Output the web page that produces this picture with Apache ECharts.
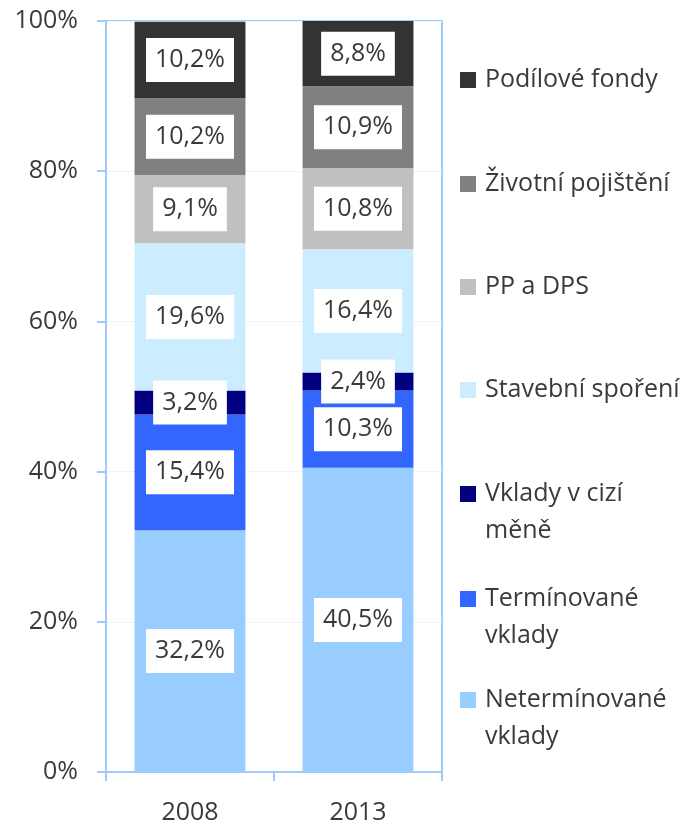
<!DOCTYPE html>
<html>
<head>
<meta charset="utf-8">
<script src="https://cdn.jsdelivr.net/npm/echarts@6/dist/echarts.min.js"></script>
<style>
html,body{margin:0;padding:0;background:#fff;}
#chart{width:687px;height:825px;}
</style>
</head>
<body>
<div id="chart"></div>
<script>
// Categories (x axis)
var categories = ['2008', '2013'];
// Series names, bottom to top of the stack
var seriesNames = ['Netermínované vklady', 'Termínované vklady', 'Vklady v cizí měně', 'Stavební spoření', 'PP a DPS', 'Životní pojištění', 'Podílové fondy'];
// Legend labels (with line breaks as in the picture)
var legendLabels = ['Netermínované\nvklady', 'Termínované\nvklady', 'Vklady v cizí\nměně', 'Stavební spoření', 'PP a DPS', 'Životní pojištění', 'Podílové fondy'];
// Values in % per series (2008, 2013)
var netermVklady = [32.2, 40.5];
var termVklady = [15.4, 10.3];
var vkladyCizi = [3.2, 2.4];
var stavebniSporeni = [19.6, 16.4];
var ppDps = [9.1, 10.8];
var zivotniPojisteni = [10.2, 10.9];
var podiloveFondy = [10.2, 8.8];
var seriesValues = [netermVklady, termVklady, vkladyCizi, stavebniSporeni, ppDps, zivotniPojisteni, podiloveFondy];
var colors = ['#99CCFF', '#3366FF', '#000080', '#CCECFF', '#C0C0C0', '#808080', '#333333'];
// Y axis ticks
var yMin = 0, yMax = 100, yInterval = 20;

var FONT = '"Open Sans", sans-serif';
var TXT = '#3a3a3a';
var LINE = '#9DCBFA';

var series = seriesNames.map(function (name, i) {
  return {
    name: name,
    type: 'bar',
    stack: 'total',
    barWidth: '66%',
    data: seriesValues[i],
    itemStyle: { color: colors[i] },
    label: {
      show: true,
      position: 'inside',
      formatter: function (p) { return p.value.toFixed(1).replace('.', ',') + '%'; },
      backgroundColor: '#ffffff',
      color: TXT,
      fontFamily: FONT,
      fontSize: 25,
      lineHeight: 28,
      padding: [8, 9, 8, 9]
    }
  };
});

// Legends: one per item, top to bottom
var markerCenters = [80, 184, 287, 390, 494, 599, 700];
var legends = [];
for (var k = 0; k < seriesNames.length; k++) {
  var idx = seriesNames.length - 1 - k;
  var label = legendLabels[idx];
  var twoLine = label.indexOf('\n') >= 0;
  // for two-line labels, a blank first line keeps the marker level with the first text line
  var shown = twoLine ? ' \n' + label : label;
  legends.push({
    show: true,
    left: 460,
    top: markerCenters[k] - (twoLine ? 55.5 : 18.5),
    padding: 0,
    itemWidth: 16,
    itemHeight: 16,
    icon: 'rect',
    selectedMode: false,
    data: [seriesNames[idx]],
    formatter: (function (l) { return function () { return l; }; })(shown),
    textStyle: {
      color: TXT,
      fontFamily: FONT,
      fontSize: 25,
      lineHeight: 37,
      padding: [0, 0, 0, 4]
    }
  });
}

var chart = echarts.init(document.getElementById('chart'), null, { renderer: 'canvas' });
chart.setOption({
  backgroundColor: '#ffffff',
  animation: false,
  color: colors,
  legend: legends,
  grid: {
    left: 106, right: 245, top: 21, bottom: 51,
    show: true, borderColor: LINE, borderWidth: 2, backgroundColor: 'transparent'
  },
  xAxis: {
    type: 'category',
    data: categories,
    axisLine: { lineStyle: { color: LINE, width: 2 } },
    axisTick: { show: true, length: 9, lineStyle: { color: LINE, width: 2 } },
    axisLabel: { color: TXT, fontFamily: FONT, fontSize: 25, margin: 28 }
  },
  yAxis: {
    type: 'value',
    min: yMin, max: yMax, interval: yInterval,
    axisLine: { show: true, lineStyle: { color: LINE, width: 2 } },
    axisTick: { show: true, length: 9, lineStyle: { color: LINE, width: 2 } },
    splitLine: { show: true, lineStyle: { color: '#EEF4FC', width: 1 } },
    axisLabel: { color: TXT, fontFamily: FONT, fontSize: 25, margin: 28, formatter: '{value}%' }
  },
  series: series
});
</script>
</body>
</html>
